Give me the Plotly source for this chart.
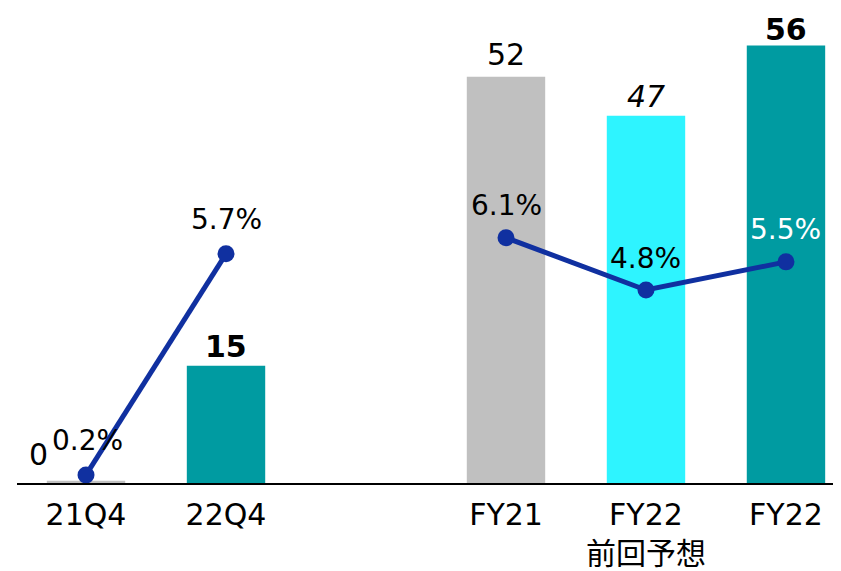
import plotly.graph_objects as go

# categories (slot 2 is the empty gap between the two groups)
positions = [0, 1, 3, 4, 5]
tick_labels = ["21Q4", "22Q4", "FY21", "FY22<br>前回予想", "FY22"]

# bar values and their labels
bar_values = [0.3, 15, 52, 47, 56]
bar_labels = ["0", "<b>15</b>", "52", "<i>47</i>", "<b>56</b>"]
bar_colors = ["#C0C0C0", "#009BA1", "#C0C0C0", "#2EF4FF", "#009BA1"]

# ratio line, two separate segments
q_pos = [0, 1]
q_ratio = [0.2, 5.7]
fy_pos = [3, 4, 5]
fy_ratio = [6.1, 4.8, 5.5]

FONT = "DejaVu Sans, Noto Sans CJK JP"
LINE = "#1030A0"

# label nudges (px): (xshift, yshift)
bar_nudge = [(-48, 7), (0, 0), (0, 3), (0, 0), (0, -4)]
pct_nudge = [(1, 16), (0, 16), (0, 14), (0, 13), (0, 14)]

fig = go.Figure()
fig.add_trace(
    go.Bar(x=positions, y=bar_values, marker=dict(color=bar_colors, line_width=0), width=0.56)
)
for xs, ys in [(q_pos, q_ratio), (fy_pos, fy_ratio)]:
    fig.add_trace(
        go.Scatter(
            x=xs,
            y=ys,
            yaxis="y2",
            mode="lines+markers",
            line=dict(color=LINE, width=5),
            marker=dict(color=LINE, size=17),
        )
    )

# value labels over bars
for (x, v, t), (dx, dy) in zip(zip(positions, bar_values, bar_labels), bar_nudge):
    fig.add_annotation(
        x=x, y=v, text=t, showarrow=False, yanchor="bottom",
        xshift=dx, yshift=dy,
        font=dict(size=30, color="black", family=FONT),
    )

# percentage labels
ratio_pts = list(zip(q_pos, q_ratio)) + list(zip(fy_pos, fy_ratio))
for i, ((x, r), (dx, dy)) in enumerate(zip(ratio_pts, pct_nudge)):
    fig.add_annotation(
        x=x, y=r, yref="y2", text=f"{r:.1f}%", showarrow=False, yanchor="bottom",
        xshift=dx, yshift=dy,
        font=dict(size=28, color="white" if i == 4 else "black", family=FONT),
    )

# page body adds an 8px margin, so the figure is 8px smaller each way
fig.update_layout(
    width=833,
    height=563,
    margin=dict(l=9, r=0, t=5, b=81),
    plot_bgcolor="white",
    paper_bgcolor="white",
    showlegend=False,
    font=dict(family=FONT, size=30, color="black"),
    xaxis=dict(
        range=[-0.493, 5.393],
        tickvals=positions,
        ticktext=tick_labels,
        showline=True,
        linecolor="black",
        linewidth=2,
        showgrid=False,
        zeroline=False,
        ticks="",
        ticklabelstandoff=4,
        tickfont=dict(size=30, color="black"),
    ),
    yaxis=dict(range=[0, 60.15], visible=False, showgrid=False),
    yaxis2=dict(range=[0, 11.69], overlaying="y", visible=False, showgrid=False),
)

fig.write_html("out.html")
